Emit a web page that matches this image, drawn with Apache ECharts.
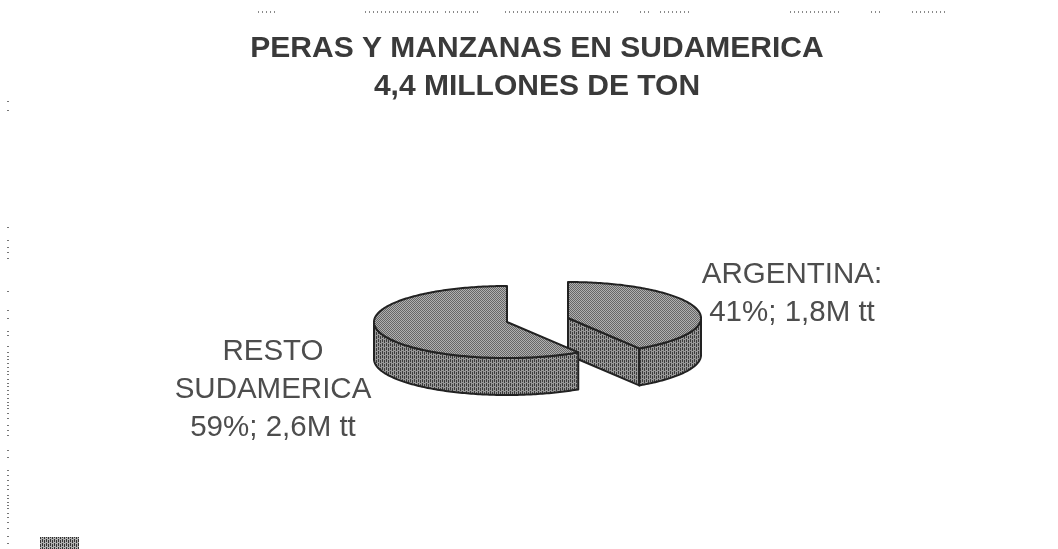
<!DOCTYPE html>
<html>
<head>
<meta charset="utf-8">
<style>html,body{margin:0;padding:0;background:#fff}#c{width:1058px;height:549px}</style>
<script src="https://cdn.jsdelivr.net/npm/echarts@6/dist/echarts.min.js"></script>
</head>
<body>
<div id="c"></div>
<script>
const categories = ['ARGENTINA', 'RESTO SUDAMERICA'];
const shares = [41, 59];
const tons = [1.8, 2.6];
const labelLines = [['ARGENTINA:', '41%; 1,8M tt'], ['RESTO', 'SUDAMERICA', '59%; 2,6M tt']];
const titleText = 'PERAS Y MANZANAS EN SUDAMERICA\n4,4 MILLONES DE TON';

// Drawn slice layout (exploded slices, screen-space ellipse)
const sliceCentres = [[568, 318], [507, 322]];
const labelAnchors = [[792, 275], [273, 352]];
const RX = 133, RY = 36, DEPTH = 37, LINE = 38;

function dither(a, b, vertical) {
  const c = document.createElement('canvas');
  c.width = 4; c.height = 4;
  const g = c.getContext('2d');
  g.fillStyle = a; g.fillRect(0, 0, 4, 4);
  g.fillStyle = b;
  for (let y = 0; y < 4; y++) for (let x = 0; x < 4; x++) {
    if (vertical ? (x % 2 === 0 && (y + (x >> 1)) % 4 !== 3) : (x + y) % 2 === 0) g.fillRect(x, y, 1, 1);
  }
  return { image: c, repeat: 'repeat' };
}
const topFill = dither('#b0b0b0', '#666666', false);
const wallFill = dither('#999999', '#3c3c3c', true);
const blockFill = dither('#b0b0b0', '#333333', true);
const EDGE = '#222222';

const total = shares.reduce((a, b) => a + b, 0);
function startAngle(idx) {
  let s = 90;
  for (let i = 0; i < idx; i++) s -= shares[i] / total * 360;
  return s;
}

function renderSlice(params, api) {
  const i = params.dataIndex;
  const v = api.value(1);
  const [cx, cy] = sliceCentres[i];
  const a0 = startAngle(i), a1 = a0 - v / total * 360;
  const pt = (deg, dy) => [cx + RX * Math.cos(deg * Math.PI / 180), cy - RY * Math.sin(deg * Math.PI / 180) + (dy || 0)];
  const arc = [];
  for (let a = a0; a >= a1; a -= 1) arc.push(a);
  arc.push(a1);
  const children = [];
  const norm = a => ((a % 360) + 360) % 360;
  const lower = arc.filter(a => norm(a) >= 180);
  const line = { stroke: EDGE, lineWidth: 2, lineJoin: 'round' };
  if (i === 0) {
    // radial cut face of the detached slice
    const e = pt(a1);
    children.push({ type: 'polygon', shape: { points: [[cx, cy], e, [e[0], e[1] + DEPTH], [cx, cy + DEPTH]] },
      style: Object.assign({ fill: wallFill }, line) });
  }
  if (lower.length) {
    const rim = lower.map(a => pt(a));
    const low = lower.map(a => pt(a, DEPTH)).reverse();
    children.push({ type: 'polygon', shape: { points: rim.concat(low) },
      style: Object.assign({ fill: wallFill }, line) });
  }
  const top = [[cx, cy]].concat(arc.map(a => pt(a)));
  children.push({ type: 'polygon', shape: { points: top },
    style: Object.assign({ fill: topFill }, line) });
  const anchor = labelAnchors[i];
  labelLines[i].forEach((t, k) => children.push({
    type: 'text', x: anchor[0], y: anchor[1] + k * LINE,
    style: { text: t, fill: '#4d4d4d', font: '29.5px "Liberation Sans", Arial, sans-serif', textAlign: 'center', textVerticalAlign: 'middle' }
  }));
  return { type: 'group', children };
}

// Scan specks along the top and left margins of the source page
const topSpecks = [[258, 275], [365, 440], [445, 480], [505, 620], [640, 650], [660, 690], [790, 840], [871, 883], [912, 947]];
const leftDots = [101, 110, 227, 240, 247, 252, 258, 291, 310, 318, 331, 335, 346, 352, 356, 359, 363, 367, 371, 374, 379, 383, 386, 390, 394, 398, 402, 405, 408, 413, 418, 425, 430, 435, 450, 457, 470, 475, 480, 485, 489, 495, 498, 502, 505, 508, 513, 517, 522, 528, 536, 543];
const specks = [];
topSpecks.forEach(s => specks.push({ type: 'line', silent: true,
  shape: { x1: s[0], y1: 12, x2: s[1], y2: 12 }, style: { stroke: '#8a8a8a', lineWidth: 2, lineDash: [1, 3] } }));
leftDots.forEach(y => specks.push({ type: 'rect', silent: true,
  shape: { x: 7, y: y, width: 2, height: 1 }, style: { fill: '#777777' } }));
specks.push({ type: 'rect', silent: true, shape: { x: 40, y: 537, width: 39, height: 12 }, style: { fill: blockFill } });

const chart = echarts.init(document.getElementById('c'), null, { renderer: 'canvas' });
chart.setOption({
  animation: false,
  backgroundColor: '#ffffff',
  title: {
    text: titleText, left: 532, top: 25, textAlign: 'center',
    textStyle: { fontFamily: '"Liberation Sans", Arial, sans-serif', fontSize: 30, fontWeight: 'bold', color: '#3a3a3a', lineHeight: 38 }
  },
  graphic: specks,
  series: [{
    type: 'custom',
    coordinateSystem: 'none',
    renderItem: renderSlice,
    data: categories.map((c, i) => ({ name: c, value: [i, shares[i], tons[i]] }))
  }]
});
</script>
</body>
</html>
